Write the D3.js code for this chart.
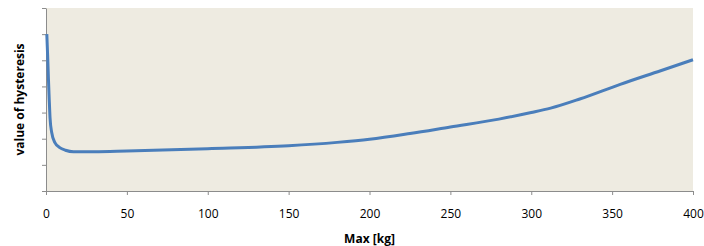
<!DOCTYPE html>
<meta charset="utf-8">
<body style="margin:0;background:#fff">
<script src="https://d3js.org/d3.v7.min.js" charset="utf-8"></script>
<style type="text/css">
  .axis text {
    font-family: "Open Sans";
    font-size: 12px;
    fill: #000;
  }
  .axis path, .axis line {
    stroke: #8c8c8c;
  }
  .label {
    font-family: "Open Sans";
    font-size: 12px;
    font-weight: bold;
  }
</style>
<script>
var width = 704;
var height = 246;

// values
var maxKg = [0.5, 1, 1.5, 2, 2.5, 3.5, 5.5, 8.5, 12, 17, 30, 50, 100, 150, 180, 200, 225, 250, 280, 300, 312, 330, 355, 380, 400];
var hysteresis = [6.0, 5.2, 4.3, 3.5, 2.8, 2.25, 1.85, 1.66, 1.56, 1.5, 1.5, 1.53, 1.62, 1.73, 1.86, 1.98, 2.2, 2.45, 2.75, 3.0, 3.17, 3.52, 4.08, 4.6, 5.02];
var xTicks = [0, 50, 100, 150, 200, 250, 300, 350, 400];
var yTicks = [0, 1, 2, 3, 4, 5, 6, 7];

var margin = {top: 8, right: 11, bottom: 55, left: 46};

var svg = d3.select("body")
            .append("svg")
            .attr("width", width)
            .attr("height", height);

var x = d3.scaleLinear()
          .domain([0, 400])
          .range([margin.left, width - margin.right]);

var y = d3.scaleLinear()
          .domain([0, 7])
          .range([height - margin.bottom, margin.top]);

svg.append("rect")
    .attr("x", x(0))
    .attr("y", y(7))
    .attr("width", x(400) - x(0))
    .attr("height", y(0) - y(7))
    .attr("fill", "#eeebe1");

svg.append("g")
    .attr("class", "axis")
    .attr("transform", "translate(0," + y(0) + ")")
    .call(d3.axisBottom(x).tickValues(xTicks).tickSize(4).tickSizeOuter(0).tickPadding(14));

svg.append("g")
    .attr("class", "axis")
    .attr("transform", "translate(" + x(0) + ",0)")
    .call(d3.axisLeft(y).tickValues(yTicks).tickSize(4).tickSizeOuter(0).tickFormat(""));

var data = maxKg.map(function(d, i) { return [d, hysteresis[i]]; });

var line = d3.line()
             .x(function(d) { return x(d[0]); })
             .y(function(d) { return y(d[1]); })
             .curve(d3.curveMonotoneX);

svg.append("path")
    .datum(data)
    .attr("fill", "none")
    .attr("stroke", "#4a7ebb")
    .attr("stroke-width", 3)
    .attr("d", line);

svg.append("text")
    .attr("class", "label")
    .attr("x", (x(0) + x(400)) / 2)
    .attr("y", 243)
    .attr("text-anchor", "middle")
    .text("Max [kg]");

svg.append("text")
    .attr("class", "label")
    .attr("transform", "translate(24," + (y(0) + y(7)) / 2 + ") rotate(-90)")
    .attr("text-anchor", "middle")
    .text("value of hysteresis");
</script>
</body>
</html>
